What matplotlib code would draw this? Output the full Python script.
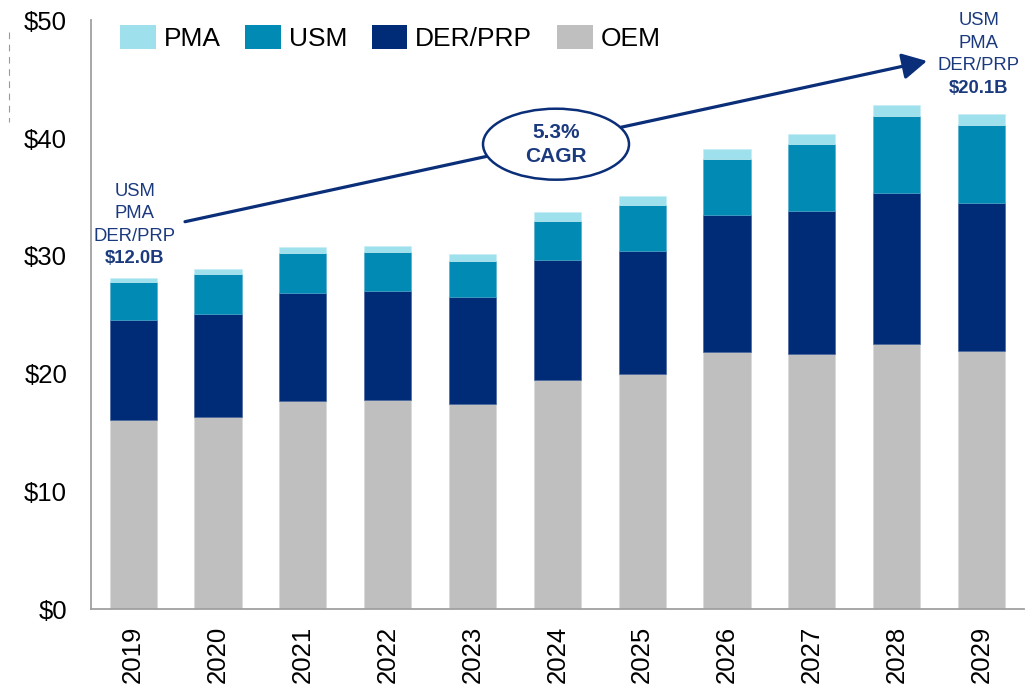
import matplotlib
matplotlib.use("Agg")
import matplotlib.pyplot as plt
from matplotlib.patches import Ellipse, FancyArrowPatch, Patch
from matplotlib.lines import Line2D
import numpy as np

plt.rcParams['font.family'] = ['Liberation Sans', 'DejaVu Sans']

# ---- data ----
years = ['2019', '2020', '2021', '2022', '2023', '2024', '2025', '2026', '2027', '2028', '2029']
oem = [16.1, 16.3, 17.65, 17.75, 17.45, 19.5, 20.0, 21.8, 21.7, 22.5, 21.9]
der_prp = [8.5, 8.75, 9.2, 9.25, 9.05, 10.15, 10.45, 11.7, 12.1, 12.8, 12.6]
usm = [3.2, 3.45, 3.4, 3.3, 3.1, 3.35, 3.9, 4.7, 5.7, 6.6, 6.6]
pma = [0.3, 0.4, 0.5, 0.55, 0.55, 0.7, 0.7, 0.85, 0.85, 0.9, 0.95]
series_names = ['PMA', 'USM', 'DER/PRP', 'OEM']
y_ticks = [0, 10, 20, 30, 40, 50]
y_tick_labels = ['$0', '$10', '$20', '$30', '$40', '$50']
cagr_text = ['5.3%', 'CAGR']
left_note = ['USM', 'PMA', 'DER/PRP', '$12.0B']
right_note = ['USM', 'PMA', 'DER/PRP', '$20.1B']

# ---- style ----
C_OEM = '#BFBFBF'
C_DER = '#002B76'
C_USM = '#008AB4'
C_PMA = '#9EE0EC'
NAVY = '#0A2E78'
TXT_NAVY = '#1B3A7E'
SPINE = '#A0A0A0'

W, H = 1032, 686
fig = plt.figure(figsize=(W / 100, H / 100), dpi=100)
ax = fig.add_axes([90.7 / W, 1 - 609.3 / H, (1024 - 90.7) / W, (609.3 - 20.3) / H])

x = np.arange(len(years))
bw = 0.555
b1 = ax.bar(x, oem, bw, color=C_OEM, edgecolor='#D8D8D8', linewidth=0.4, zorder=2)
bottom2 = np.array(oem)
b2 = ax.bar(x, der_prp, bw, bottom=bottom2, color=C_DER, edgecolor='#3B5C9A', linewidth=0.4, zorder=2)
bottom3 = bottom2 + np.array(der_prp)
b3 = ax.bar(x, usm, bw, bottom=bottom3, color=C_USM, edgecolor='#4BA9C9', linewidth=0.4, zorder=2)
bottom4 = bottom3 + np.array(usm)
b4 = ax.bar(x, pma, bw, bottom=bottom4, color=C_PMA, edgecolor='#C5EEF5', linewidth=0.4, zorder=2)

ax.set_xlim(-0.5, len(years) - 0.5)
ax.set_ylim(0, 50)
ax.set_yticks(y_ticks)
ax.set_yticklabels(y_tick_labels)
ax.set_xticks(x)
ax.set_xticklabels(years, rotation=90)
ax.tick_params(axis='y', length=0, pad=17, labelsize=18.5, labelcolor='black')
ax.tick_params(axis='x', length=0, pad=12, labelsize=18.5, labelcolor='black')
for s in ['top', 'right']:
    ax.spines[s].set_visible(False)
for s in ['left', 'bottom']:
    ax.spines[s].set_color(SPINE)
    ax.spines[s].set_linewidth(1.3)

# ---- legend ----
handles = [Patch(facecolor=C_PMA, edgecolor='none'),
           Patch(facecolor=C_USM, edgecolor='none'),
           Patch(facecolor=C_DER, edgecolor='none'),
           Patch(facecolor=C_OEM, edgecolor='none')]
leg = ax.legend(handles, series_names, ncol=4, loc='upper left',
                bbox_to_anchor=(120 / W, 1 - 25 / H), bbox_transform=fig.transFigure,
                frameon=False, fontsize=19, handlelength=1.36, handleheight=1.05,
                handletextpad=0.3, columnspacing=0.92, borderpad=0, borderaxespad=0)


def fpx(px, py):
    return (px / W, 1 - py / H)


# ---- CAGR arrow ----
arrow = FancyArrowPatch(fpx(185, 221.7), fpx(927, 61), transform=fig.transFigure,
                        arrowstyle='-|>,head_length=0.75,head_width=0.4',
                        mutation_scale=20, lw=2.3, color=NAVY,
                        shrinkA=0, shrinkB=0, zorder=5)
fig.add_artist(arrow)
ell = Ellipse(fpx(556, 144.2), 146 / W, 71 / H, transform=fig.transFigure,
              facecolor='white', edgecolor=NAVY, lw=1.8, zorder=6)
fig.add_artist(ell)
cx, cy = fpx(556, 133)
fig.text(cx, cy, cagr_text[0], ha='center', va='center', fontsize=15,
         fontweight='bold', color=TXT_NAVY, zorder=7)
cx, cy = fpx(556, 157)
fig.text(cx, cy, cagr_text[1], ha='center', va='center', fontsize=15,
         fontweight='bold', color=TXT_NAVY, zorder=7)

# ---- side notes ----
left_ys = [191.5, 213.8, 236.5, 258.7]
for i, (t, yy) in enumerate(zip(left_note, left_ys)):
    px_, py_ = fpx(134.8, yy)
    fig.text(px_, py_, t, ha='center', va='center', fontsize=13.3,
             fontweight='bold' if i == 3 else 'normal', color=TXT_NAVY, zorder=7)
right_ys = [20.3, 43.0, 65.3, 88.7]
for i, (t, yy) in enumerate(zip(right_note, right_ys)):
    px_, py_ = fpx(978.8, yy)
    fig.text(px_, py_, t, ha='center', va='center', fontsize=13.3,
             fontweight='bold' if i == 3 else 'normal', color=TXT_NAVY, zorder=7)

# faint dashed mark at far left
x0, y0 = fpx(9.3, 31.7)
x1, y1 = fpx(9.3, 121.7)
fig.add_artist(Line2D([x0, x1], [y0, y1], transform=fig.transFigure,
                      color='#9A9A9A', lw=0.8, ls=(0, (6, 5))))

fig.savefig('out.png', dpi=100)
